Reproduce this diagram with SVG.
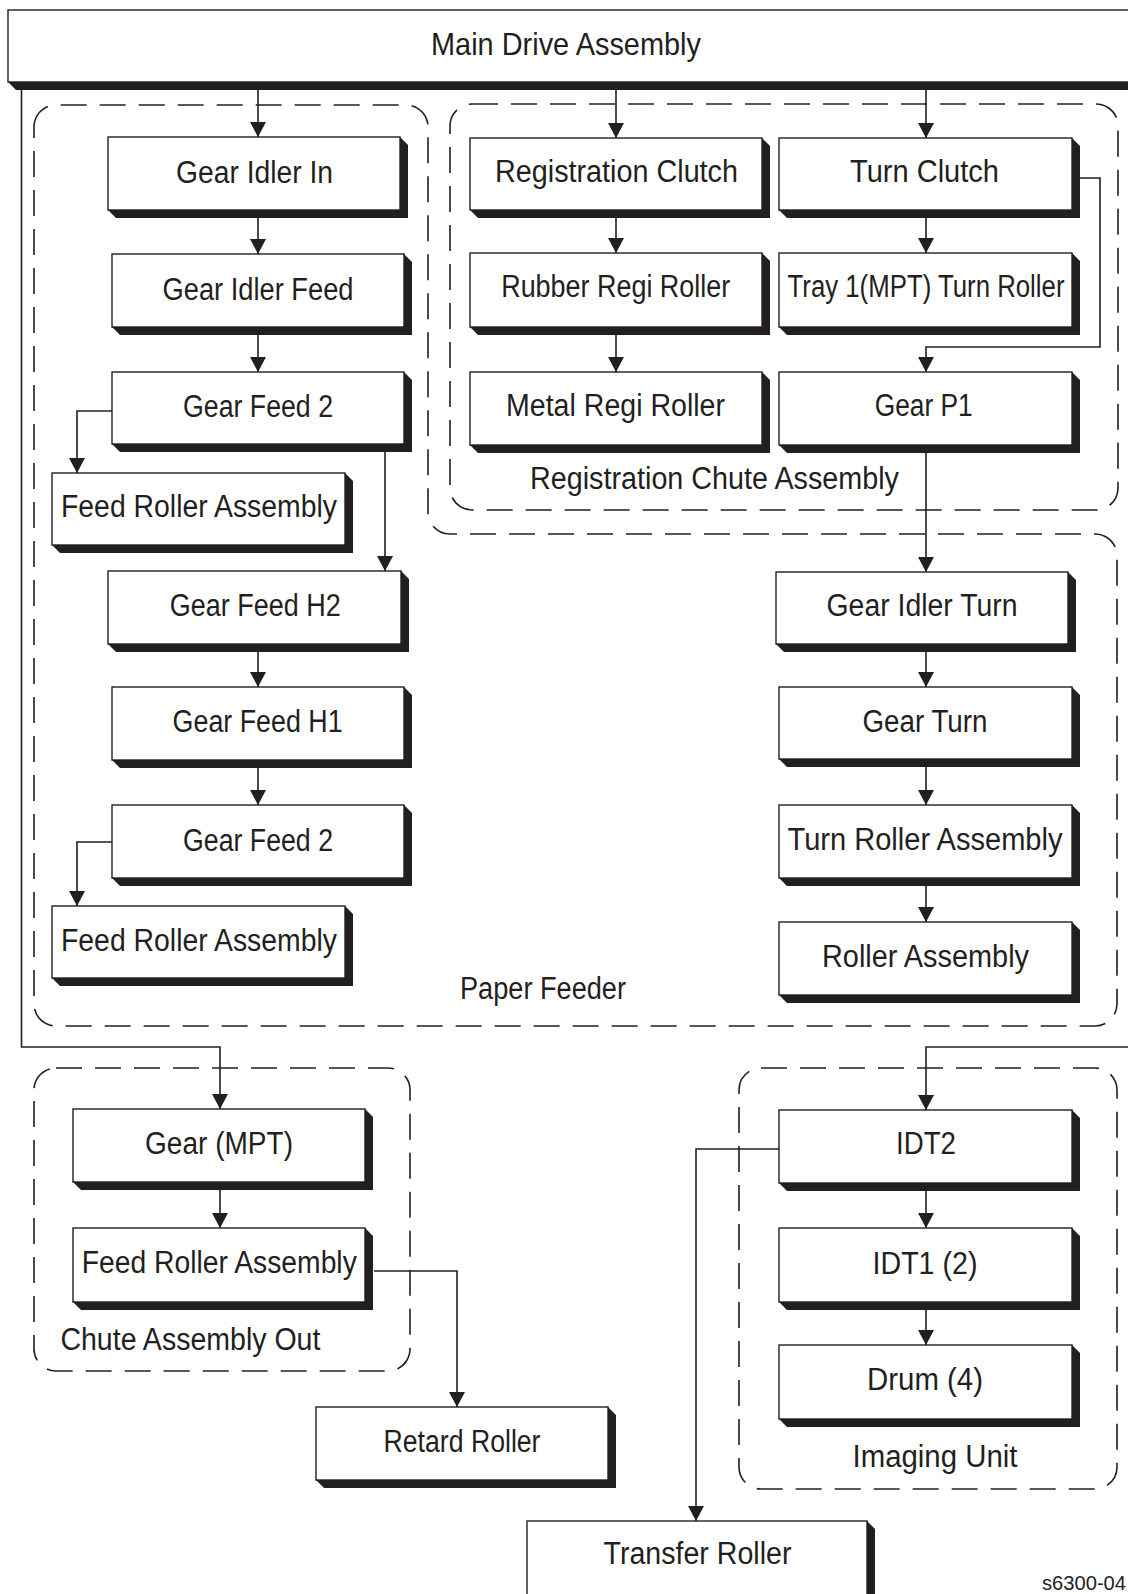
<svg xmlns="http://www.w3.org/2000/svg" width="1128" height="1594" viewBox="0 0 1128 1594">
<defs>
<marker id="arr" markerUnits="userSpaceOnUse" markerWidth="15" markerHeight="16" refX="15" refY="8" orient="auto" viewBox="0 0 15 16">
<path d="M0,0 L15,8 L0,16 z" fill="#231f20"/>
</marker>
</defs>
<style>
.bx{fill:#fff;stroke:#231f20;stroke-width:1.4}
.sh{fill:#231f20}
.t{font-family:"Liberation Sans Narrow","Liberation Sans",Arial,sans-serif;font-size:31px;fill:#231f20;text-anchor:middle}
.g{font-family:"Liberation Sans Narrow","Liberation Sans",Arial,sans-serif;font-size:31px;fill:#231f20;text-anchor:middle}
.dash{fill:none;stroke:#231f20;stroke-width:1.6;stroke-dasharray:26 13}
.c{fill:none;stroke:#231f20;stroke-width:1.6}
.ca{fill:none;stroke:#231f20;stroke-width:1.6;marker-end:url(#arr)}
</style>
<rect x="0" y="0" width="1128" height="1594" fill="#fff"/>

<g id="groups">
<path id="paper-feeder" class="dash" d="M34,127 A22,22 0 0 1 56,105 H406 A22,22 0 0 1 428,127 V512 A22,22 0 0 0 450,534 H1095 A22,22 0 0 1 1117,556 V1004 A22,22 0 0 1 1095,1026 H56 A22,22 0 0 1 34,1004 Z"/>
<rect id="registration-chute" class="dash" x="450" y="104" width="668" height="406" rx="22" ry="22"/>
<rect id="chute-assembly-out" class="dash" x="34" y="1068" width="376" height="303" rx="22" ry="22"/>
<rect id="imaging-unit" class="dash" x="739" y="1068" width="378" height="421" rx="22" ry="22"/>
<text class="g" x="543" y="999" textLength="166" lengthAdjust="spacingAndGlyphs">Paper Feeder</text>
<text class="g" x="714.5" y="489" textLength="369" lengthAdjust="spacingAndGlyphs">Registration Chute Assembly</text>
<text class="g" x="190.4" y="1350" textLength="260" lengthAdjust="spacingAndGlyphs">Chute Assembly Out</text>
<text class="g" x="935" y="1467" textLength="165" lengthAdjust="spacingAndGlyphs">Imaging Unit</text>
</g>

<g id="connectors">
<path class="ca" d="M258,90 V137"/>
<path class="ca" d="M616,90 V138"/>
<path class="ca" d="M926,90 V138"/>
<path class="ca" d="M21.5,90 V1047 H220 V1109"/>
<path class="ca" d="M1140,90 V1047 H926 V1110"/>
<path class="ca" d="M258,218 V254"/>
<path class="ca" d="M258,335 V372"/>
<path class="ca" d="M112,411 H77 V473"/>
<path class="ca" d="M385,452 V571"/>
<path class="ca" d="M258,652 V687"/>
<path class="ca" d="M258,768 V805"/>
<path class="ca" d="M112,842 H77 V906"/>
<path class="ca" d="M616,218 V253"/>
<path class="ca" d="M616,335 V372"/>
<path class="ca" d="M926,218 V253"/>
<path class="ca" d="M1080,178 H1100 V347 H926 V372"/>
<path class="ca" d="M926,453 V572"/>
<path class="ca" d="M926,652 V687"/>
<path class="ca" d="M926,767 V805"/>
<path class="ca" d="M926,886 V922"/>
<path class="ca" d="M220,1190 V1228"/>
<path class="ca" d="M374,1271 H457 V1407"/>
<path class="ca" d="M926,1191 V1228"/>
<path class="ca" d="M926,1310 V1345"/>
<path class="ca" d="M779,1149 H696 V1521"/>
</g>

<g id="main-drive"><polygon class="sh" points="1148,10 1156,18 1156,90 16,90 8,82"/><rect class="bx" x="8" y="10" width="1140" height="72"/><text class="t" style="font-size:32px" x="566" y="55" textLength="270" lengthAdjust="spacingAndGlyphs">Main Drive Assembly</text></g>

<g id="gear-idler-in"><polygon class="sh" points="400,137 408,145 408,218 116,218 108,210"/><rect class="bx" x="108" y="137" width="292" height="73"/><text class="t" x="254.5" y="183" textLength="157" lengthAdjust="spacingAndGlyphs">Gear Idler In</text></g>
<g id="gear-idler-feed"><polygon class="sh" points="404,254 412,262 412,335 120,335 112,327"/><rect class="bx" x="112" y="254" width="292" height="73"/><text class="t" x="258" y="300" textLength="191" lengthAdjust="spacingAndGlyphs">Gear Idler Feed</text></g>
<g id="gear-feed-2a"><polygon class="sh" points="404,372 412,380 412,452 120,452 112,444"/><rect class="bx" x="112" y="372" width="292" height="72"/><text class="t" x="258" y="417" textLength="150" lengthAdjust="spacingAndGlyphs">Gear Feed 2</text></g>
<g id="feed-roller-a"><polygon class="sh" points="345,473 353,481 353,553 60,553 52,545"/><rect class="bx" x="52" y="473" width="293" height="72"/><text class="t" x="199" y="517" textLength="276" lengthAdjust="spacingAndGlyphs">Feed Roller Assembly</text></g>
<g id="gear-feed-h2"><polygon class="sh" points="401,571 409,579 409,652 116,652 108,644"/><rect class="bx" x="108" y="571" width="293" height="73"/><text class="t" x="255.3" y="616" textLength="171" lengthAdjust="spacingAndGlyphs">Gear Feed H2</text></g>
<g id="gear-feed-h1"><polygon class="sh" points="404,687 412,695 412,768 120,768 112,760"/><rect class="bx" x="112" y="687" width="292" height="73"/><text class="t" x="257.6" y="732" textLength="170" lengthAdjust="spacingAndGlyphs">Gear Feed H1</text></g>
<g id="gear-feed-2b"><polygon class="sh" points="404,805 412,813 412,886 120,886 112,878"/><rect class="bx" x="112" y="805" width="292" height="73"/><text class="t" x="258" y="851" textLength="150" lengthAdjust="spacingAndGlyphs">Gear Feed 2</text></g>
<g id="feed-roller-b"><polygon class="sh" points="345,906 353,914 353,986 60,986 52,978"/><rect class="bx" x="52" y="906" width="293" height="72"/><text class="t" x="199" y="951" textLength="276" lengthAdjust="spacingAndGlyphs">Feed Roller Assembly</text></g>

<g id="registration-clutch"><polygon class="sh" points="762,138 770,146 770,218 478,218 470,210"/><rect class="bx" x="470" y="138" width="292" height="72"/><text class="t" x="616.5" y="182" textLength="243" lengthAdjust="spacingAndGlyphs">Registration Clutch</text></g>
<g id="turn-clutch"><polygon class="sh" points="1072,138 1080,146 1080,218 787,218 779,210"/><rect class="bx" x="779" y="138" width="293" height="72"/><text class="t" x="924.5" y="182" textLength="149" lengthAdjust="spacingAndGlyphs">Turn Clutch</text></g>
<g id="rubber-regi-roller"><polygon class="sh" points="762,253 770,261 770,335 478,335 470,327"/><rect class="bx" x="470" y="253" width="292" height="74"/><text class="t" x="615.7" y="297" textLength="229" lengthAdjust="spacingAndGlyphs">Rubber Regi Roller</text></g>
<g id="tray1-turn-roller"><polygon class="sh" points="1072,253 1080,261 1080,335 787,335 779,327"/><rect class="bx" x="779" y="253" width="293" height="74"/><text class="t" x="926" y="297" textLength="277" lengthAdjust="spacingAndGlyphs">Tray 1(MPT) Turn Roller</text></g>
<g id="metal-regi-roller"><polygon class="sh" points="762,372 770,380 770,453 478,453 470,445"/><rect class="bx" x="470" y="372" width="292" height="73"/><text class="t" x="615.5" y="416" textLength="219" lengthAdjust="spacingAndGlyphs">Metal Regi Roller</text></g>
<g id="gear-p1"><polygon class="sh" points="1072,372 1080,380 1080,453 787,453 779,445"/><rect class="bx" x="779" y="372" width="293" height="73"/><text class="t" x="923.7" y="416" textLength="98" lengthAdjust="spacingAndGlyphs">Gear P1</text></g>

<g id="gear-idler-turn"><polygon class="sh" points="1068,572 1076,580 1076,652 784,652 776,644"/><rect class="bx" x="776" y="572" width="292" height="72"/><text class="t" x="922" y="616" textLength="191" lengthAdjust="spacingAndGlyphs">Gear Idler Turn</text></g>
<g id="gear-turn"><polygon class="sh" points="1072,687 1080,695 1080,767 787,767 779,759"/><rect class="bx" x="779" y="687" width="293" height="72"/><text class="t" x="925" y="732" textLength="125" lengthAdjust="spacingAndGlyphs">Gear Turn</text></g>
<g id="turn-roller-assembly"><polygon class="sh" points="1072,805 1080,813 1080,886 787,886 779,878"/><rect class="bx" x="779" y="805" width="293" height="73"/><text class="t" x="925" y="850" textLength="275" lengthAdjust="spacingAndGlyphs">Turn Roller Assembly</text></g>
<g id="roller-assembly"><polygon class="sh" points="1072,922 1080,930 1080,1003 787,1003 779,995"/><rect class="bx" x="779" y="922" width="293" height="73"/><text class="t" x="925.5" y="967" textLength="207" lengthAdjust="spacingAndGlyphs">Roller Assembly</text></g>

<g id="gear-mpt"><polygon class="sh" points="365,1109 373,1117 373,1190 81,1190 73,1182"/><rect class="bx" x="73" y="1109" width="292" height="73"/><text class="t" x="219" y="1154" textLength="148" lengthAdjust="spacingAndGlyphs">Gear (MPT)</text></g>
<g id="feed-roller-c"><polygon class="sh" points="365,1228 373,1236 373,1310 81,1310 73,1302"/><rect class="bx" x="73" y="1228" width="292" height="74"/><text class="t" x="219.3" y="1273" textLength="275" lengthAdjust="spacingAndGlyphs">Feed Roller Assembly</text></g>
<g id="retard-roller"><polygon class="sh" points="608,1407 616,1415 616,1488 324,1488 316,1480"/><rect class="bx" x="316" y="1407" width="292" height="73"/><text class="t" x="462" y="1452" textLength="157" lengthAdjust="spacingAndGlyphs">Retard Roller</text></g>

<g id="idt2"><polygon class="sh" points="1072,1110 1080,1118 1080,1191 787,1191 779,1183"/><rect class="bx" x="779" y="1110" width="293" height="73"/><text class="t" x="926" y="1154" textLength="60" lengthAdjust="spacingAndGlyphs">IDT2</text></g>
<g id="idt1"><polygon class="sh" points="1072,1228 1080,1236 1080,1310 787,1310 779,1302"/><rect class="bx" x="779" y="1228" width="293" height="74"/><text class="t" x="925" y="1274" textLength="105" lengthAdjust="spacingAndGlyphs">IDT1 (2)</text></g>
<g id="drum"><polygon class="sh" points="1072,1345 1080,1353 1080,1427 787,1427 779,1419"/><rect class="bx" x="779" y="1345" width="293" height="74"/><text class="t" x="925" y="1390" textLength="116" lengthAdjust="spacingAndGlyphs">Drum (4)</text></g>
<g id="transfer-roller"><polygon class="sh" points="867,1521 875,1529 875,1610 535,1610 527,1602"/><rect class="bx" x="527" y="1521" width="340" height="81"/><text class="t" x="697.5" y="1564" textLength="188" lengthAdjust="spacingAndGlyphs">Transfer Roller</text></g>

<text x="1126" y="1590" text-anchor="end" textLength="84" lengthAdjust="spacingAndGlyphs" style="font-family:'Liberation Sans Narrow','Liberation Sans',Arial,sans-serif;font-size:20px;fill:#231f20">s6300-04</text>
</svg>
